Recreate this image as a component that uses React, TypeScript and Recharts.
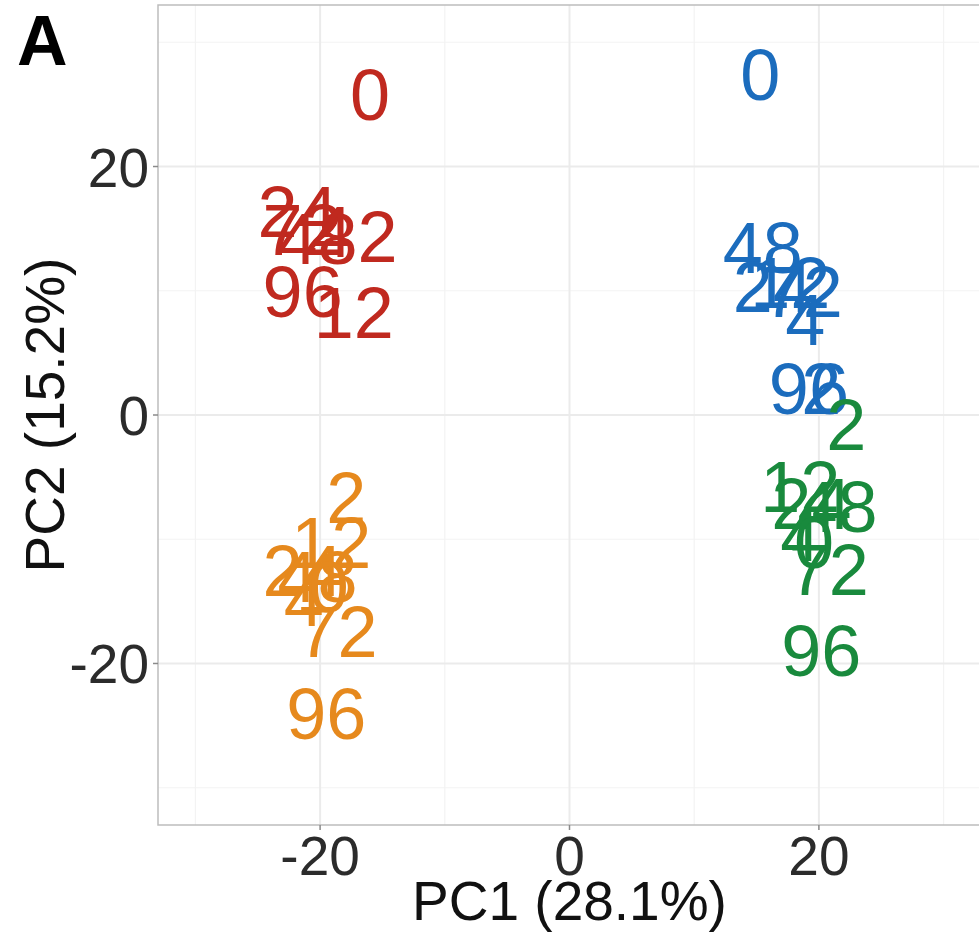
import { ScatterChart, Scatter, XAxis, YAxis, CartesianGrid, ReferenceArea, Label } from "recharts";

const FONT = "'Liberation Sans', Arial, Helvetica, sans-serif";

const majorTicks = [-20, 0, 20];
const minorTicks = [-30, -10, 10, 30];
const axisDomain = [-33, 33];

// time point labels and PCA scores, one set per group
const redLabels = ["0", "24", "72", "48", "4", "2", "96", "12"];
const redPC1 = [-16.0, -21.8, -21.4, -20.2, -19.0, -15.4, -21.4, -17.3];
const redPC2 = [25.8, 16.4, 15.0, 14.2, 14.8, 14.4, 10.0, 8.3];

const orangeLabels = ["2", "12", "24", "48", "4", "0", "72", "96"];
const orangePC1 = [-17.9, -19.1, -21.4, -20.2, -21.3, -19.3, -18.6, -19.5];
const orangePC2 = [-6.6, -10.2, -12.5, -13.0, -14.9, -13.8, -17.4, -24.0];

const blueLabels = ["0", "48", "24", "12", "72", "4", "96", "2"];
const bluePC1 = [15.3, 15.5, 16.3, 17.7, 18.7, 18.9, 19.2, 20.2];
const bluePC2 = [27.4, 13.5, 10.4, 10.7, 10.0, 7.7, 2.2, 2.2];

const greenLabels = ["2", "12", "24", "48", "4", "0", "72", "96"];
const greenPC1 = [22.2, 18.5, 19.4, 21.5, 18.5, 19.6, 20.8, 20.2];
const greenPC2 = [-0.7, -5.7, -7.1, -7.3, -9.7, -10.2, -12.4, -18.9];

const toPoints = (labels: string[], pc1: number[], pc2: number[]) =>
  labels.map((label, i) => ({ label, pc1: pc1[i], pc2: pc2[i] }));

const groups = [
  { name: "red", color: "#c0291f", data: toPoints(redLabels, redPC1, redPC2) },
  { name: "orange", color: "#e6891d", data: toPoints(orangeLabels, orangePC1, orangePC2) },
  { name: "blue", color: "#1b6cbd", data: toPoints(blueLabels, bluePC1, bluePC2) },
  { name: "green", color: "#198a3d", data: toPoints(greenLabels, greenPC1, greenPC2) },
];

const textShape = (color: string) => (props: any) => (
  <text
    x={props.cx}
    y={props.cy}
    dy="0.36em"
    textAnchor="middle"
    fontSize={72}
    fontFamily={FONT}
    fill={color}
  >
    {props.payload.label}
  </text>
);

function XTick({ x, y, payload }: any) {
  return (
    <g>
      <line x1={x} x2={x} y1={y} y2={y + 5} stroke="#8a8a8a" strokeWidth={1.5} />
      <text x={x} y={y + 50} textAnchor="middle" fontSize={55} fontFamily={FONT} fill="#2b2b2b">
        {payload.value}
      </text>
    </g>
  );
}

function YTick({ x, y, payload }: any) {
  return (
    <g>
      <line x1={x - 5} x2={x} y1={y} y2={y} stroke="#8a8a8a" strokeWidth={1.5} />
      <text x={x - 9} y={y + 20} textAnchor="end" fontSize={55} fontFamily={FONT} fill="#2b2b2b">
        {payload.value}
      </text>
    </g>
  );
}

function XTitle({ viewBox }: any) {
  return (
    <text
      x={viewBox.x + viewBox.width / 2}
      y={viewBox.y + 95}
      textAnchor="middle"
      fontSize={55}
      fontFamily={FONT}
      fill="#111"
    >
      PC1 (28.1%)
    </text>
  );
}

function YTitle({ viewBox }: any) {
  const cx = viewBox.x + 64;
  const cy = viewBox.y + viewBox.height / 2;
  return (
    <text
      x={cx}
      y={cy}
      transform={`rotate(-90, ${cx}, ${cy})`}
      textAnchor="middle"
      fontSize={55}
      fontFamily={FONT}
      fill="#111"
    >
      PC2 (15.2%)
    </text>
  );
}

export default function App() {
  return (
    <div
      style={{
        position: "absolute",
        left: 0,
        top: 0,
        width: 979,
        height: 934,
        overflow: "hidden",
        background: "#fff",
      }}
    >
      <div
        style={{
          position: "absolute",
          left: 17,
          top: 6,
          fontFamily: FONT,
          fontWeight: 700,
          fontSize: 70,
          lineHeight: "70px",
          color: "#000",
          zIndex: 2,
        }}
      >
        A
      </div>
      <ScatterChart width={990} height={934} margin={{ top: 5, right: 9, bottom: 0, left: 0 }}>
        <CartesianGrid
          horizontalValues={minorTicks}
          verticalValues={minorTicks}
          stroke="#f3f3f3"
          strokeWidth={1.2}
        />
        <CartesianGrid
          horizontalValues={majorTicks}
          verticalValues={majorTicks}
          stroke="#ebebeb"
          strokeWidth={2}
        />
        <ReferenceArea
          x1={axisDomain[0]}
          x2={axisDomain[1]}
          y1={axisDomain[0]}
          y2={axisDomain[1]}
          fill="none"
          stroke="#bdbdbd"
          strokeWidth={1.5}
          ifOverflow="visible"
        />
        <XAxis
          type="number"
          dataKey="pc1"
          domain={axisDomain}
          ticks={majorTicks}
          allowDataOverflow
          height={109}
          axisLine={false}
          tickLine={false}
          tickSize={0}
          tickMargin={0}
          tick={<XTick />}
        >
          <Label content={<XTitle />} />
        </XAxis>
        <YAxis
          type="number"
          dataKey="pc2"
          domain={axisDomain}
          ticks={majorTicks}
          allowDataOverflow
          width={158}
          axisLine={false}
          tickLine={false}
          tickSize={0}
          tickMargin={0}
          tick={<YTick />}
        >
          <Label content={<YTitle />} />
        </YAxis>
        {groups.map((g) => (
          <Scatter
            key={g.name}
            name={g.name}
            data={g.data}
            shape={textShape(g.color)}
            isAnimationActive={false}
          />
        ))}
      </ScatterChart>
    </div>
  );
}
